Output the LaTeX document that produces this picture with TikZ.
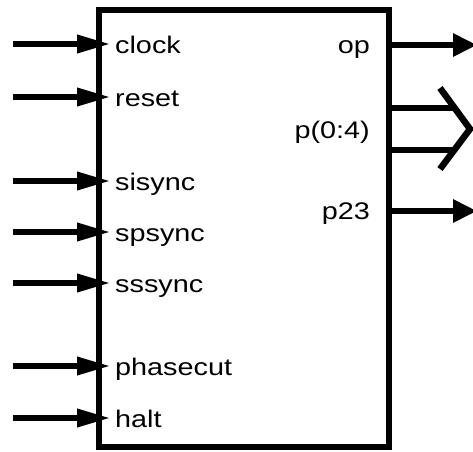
\documentclass[tikz,border=0pt]{standalone}
\usepackage{fontspec}
\setmainfont{Liberation Sans}[FakeStretch=1.2]
\usetikzlibrary{arrows.meta}
\begin{document}
\begin{tikzpicture}[x=1pt,y=-1pt,
  wire/.style={line width=6.5pt},
  sigin/.style={wire,-{Triangle[length=34pt 0,width=17pt 0]}},
  sigout/.style={wire,-{Triangle[length=24pt 0,width=22pt 0]}},
  inlbl/.style={anchor=base west,inner sep=0pt,font=\fontsize{24}{24}\selectfont},
  outlbl/.style={anchor=base east,inner sep=0pt,font=\fontsize{24}{24}\selectfont}]
\useasboundingbox (0,0) rectangle (473,451);
% the block itself
\node[draw,line width=6.5pt,minimum width=290pt,minimum height=437pt,inner sep=0pt] (blk) at (244,228.5) {};
% inputs on the left side
\foreach \nm/\yy in {clock/44,reset/97,sisync/181,spsync/232,sssync/283,phasecut/366,halt/418}{
  \coordinate (\nm-src) at (13,\yy);
  \coordinate (\nm-dst) at (111,\yy);
  \node[inlbl] (\nm-lbl) at (115,\yy+9.5) {\nm};
  \draw[sigin] (\nm-src) -- (\nm-dst);
}
% single-bit outputs
\foreach \nm/\yy in {op/45,p23/211}{
  \coordinate (\nm-src) at (391,\yy);
  \coordinate (\nm-dst) at (477,\yy);
  \node[outlbl] (\nm-lbl) at (370,\yy+8.5) {\nm};
  \draw[sigout] (\nm-src) -- (\nm-dst);
}
% bus output p(0:4)
\node[outlbl] (bus-lbl) at (370,138) {p(0:4)};
\coordinate (busA-src) at (391,108);
\coordinate (busA-dst) at (455,108);
\coordinate (busB-src) at (391,150);
\coordinate (busB-dst) at (455,150);
\coordinate (chev-top) at (440,88);
\coordinate (chev-tip) at (470,129);
\coordinate (chev-bot) at (440,169);
\draw[wire] (busA-src) -- (busA-dst);
\draw[wire] (busB-src) -- (busB-dst);
\draw[wire,line join=miter] (chev-top) -- (chev-tip) -- (chev-bot);
\end{tikzpicture}
\end{document}
